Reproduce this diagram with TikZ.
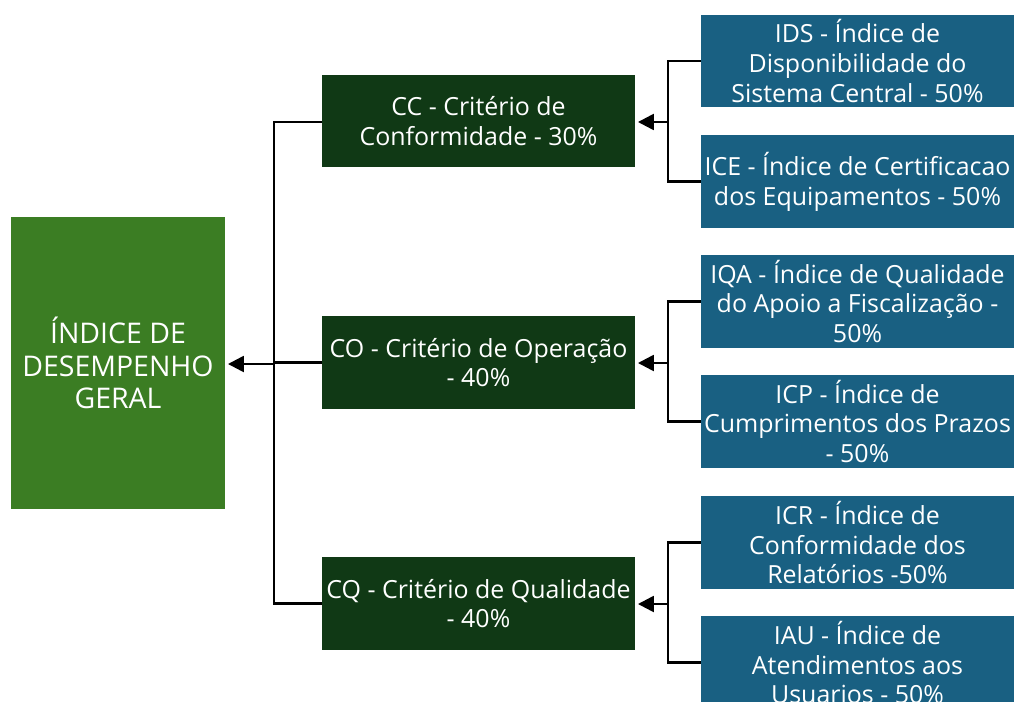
\documentclass[tikz,border=0pt]{standalone}
\usepackage{fontspec}
\setmainfont{Open Sans}
\usetikzlibrary{arrows.meta}
\definecolor{verdegeral}{RGB}{59,125,35}
\definecolor{verdecrit}{RGB}{16,57,21}
\definecolor{azulind}{RGB}{25,96,130}
\tikzset{
  caixa/.style={inner sep=0pt, align=center, text=white,
    font=\fontsize{14.2}{17}\selectfont},
  geral/.style={caixa, fill=verdegeral, minimum width=4.28cm, minimum height=5.84cm,
    font=\fontsize{16.2}{18.7}\selectfont},
  criterio/.style={caixa, fill=verdecrit, minimum width=6.26cm, minimum height=1.85cm},
  indice/.style={caixa, fill=azulind, minimum width=6.26cm, minimum height=1.86cm},
  liga/.style={line width=1.4pt},
  seta/.style={liga, -{Triangle[length=9pt,width=9pt]}, shorten >=1.5pt}
}
\begin{document}
\begin{tikzpicture}[x=0.02cm, y=-0.02cm]
  \clip (0,0) rectangle (1016,702);
  % bloco principal
  \node[geral] (idg) at (118,363) {ÍNDICE DE\\DESEMPENHO\\GERAL};
  % criterios
  \node[criterio] (cc) at (478.5,121)   {CC - Critério de\\Conformidade - 30\%};
  \node[criterio] (co) at (478.5,362.5) {CO - Critério de Operação\\- 40\%};
  \node[criterio] (cq) at (478.5,603.5) {CQ - Critério de Qualidade\\- 40\%};
  % indices
  \node[indice] (ids) at (857.5,61)    {IDS - Índice de\\Disponibilidade do\\Sistema Central - 50\%};
  \node[indice] (ice) at (857.5,181.5) {ICE - Índice de Certificacao\\dos Equipamentos - 50\%};
  \node[indice] (iqa) at (857.5,301.5) {IQA - Índice de Qualidade\\do Apoio a Fiscalização -\\50\%};
  \node[indice] (icp) at (857.5,421.5) {ICP - Índice de\\Cumprimentos dos Prazos\\- 50\%};
  \node[indice] (icr) at (857.5,542.5) {ICR - Índice de\\Conformidade dos\\Relatórios -50\%};
  \node[indice] (iau) at (857.5,662.5) {IAU - Índice de\\Atendimentos aos\\Usuarios - 50\%};
  % barramentos
  \coordinate (bg) at (274,364);
  \coordinate (b1) at (668,122);
  \coordinate (b2) at (668,363);
  \coordinate (b3) at (668,604);
  \draw[liga] (cc.west |- 0,122) -| (bg) |- (cq.west);
  \draw[liga] (co.west) -- (co.west -| bg);
  \draw[seta] (bg) -- (idg.east |- bg);
  \foreach \b/\s/\i in {b1/ids/ice, b2/iqa/icp, b3/icr/iau}{
    \draw[liga] (\s.west) -| (\b) |- (\i.west);
  }
  \draw[seta] (b1) -- (cc.east |- b1);
  \draw[seta] (b2) -- (co.east |- b2);
  \draw[seta] (b3) -- (cq.east |- b3);
\end{tikzpicture}
\end{document}
